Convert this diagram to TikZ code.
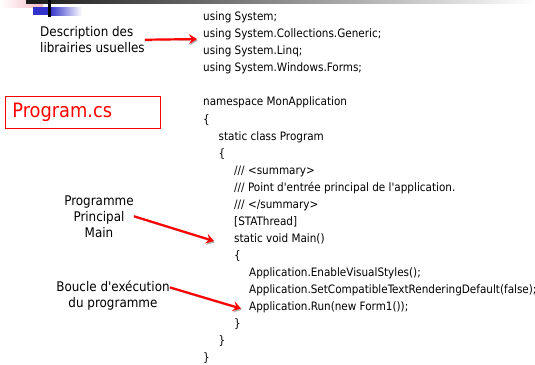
\documentclass[tikz,border=0pt]{standalone}
\usepackage{fontspec}
\setmainfont{DejaVu Sans Condensed}
\usetikzlibrary{arrows.meta}

\definecolor{slideblue}{RGB}{51,51,204}
\definecolor{slidepink}{RGB}{246,186,196}

\begin{document}
\begin{tikzpicture}
  [x=1pt,y=-1pt,
   code/.style={anchor=base west,inner sep=0pt,font=\fontsize{11.6}{14}\selectfont},
   note/.style={inner sep=0pt,font=\fontsize{13.3}{16}\selectfont},
   callout/.style={draw=red,line width=2.2pt,-{Stealth[length=8pt,width=10pt,inset=3pt]},
     preaction={draw=black!30,transform canvas={shift={(0.8pt,-1.4pt)}}}}]
  \useasboundingbox (0,0) rectangle (535,364);

  % slide header
  \shade[left color=white,right color=slidepink] (0,0) rectangle (43,7);
  \shade[left color=black!90,middle color=black!35,right color=white] (26,0) rectangle (535,3.3);
  \fill[slideblue] (33,7) rectangle (50,15);
  \shade[left color=slideblue,right color=white] (50,7) rectangle (82,15);
  \fill[black] (48,0) rectangle (50.5,17.3);

  % source of Program.cs
  \node[code] (usesys)     at (203,20.7)  {using System;};
  \node[code] (usecoll)    at (203,37.75) {using System.Collections.Generic;};
  \node[code] (uselinq)    at (203,54.8)  {using System.Linq;};
  \node[code] (useforms)   at (203,71.85) {using System.Windows.Forms;};
  \node[code] (ns)         at (203,105.95) {namespace MonApplication};
  \node[code] (nsopen)     at (203,123.0) {\{};
  \node[code] (cls)        at (218.5,140.05) {static class Program};
  \node[code] (clsopen)    at (218.5,157.1) {\{};
  \node[code] (sumopen)    at (234,174.15) {/// <summary>};
  \node[code] (sumtext)    at (234,191.2) {/// Point d\textquotesingle entrée principal de l\textquotesingle application.};
  \node[code] (sumclose)   at (234,208.25) {/// </summary>};
  \node[code] (attr)       at (234,225.3) {[STAThread]};
  \node[code] (mainsig)    at (234,242.35) {static void Main()};
  \node[code] (mainopen)   at (234,259.4) {\{};
  \node[code] (visual)     at (249,276.45) {Application.EnableVisualStyles();};
  \node[code] (textrender) at (249,293.5) {Application.SetCompatibleTextRenderingDefault(false);};
  \node[code] (run)        at (249,310.55) {Application.Run(new Form1());};
  \node[code] (mainclose)  at (234,327.6) {\}};
  \node[code] (clsclose)   at (218.5,344.65) {\}};
  \node[code] (nsclose)    at (203,361.7) {\}};

  % file name
  \node[draw=red,line width=0.8pt,text=red,anchor=north west,
        minimum width=155pt,minimum height=32pt,text width=141pt,inner xsep=7pt,
        align=left,font=\fontsize{19.8}{22}\selectfont] (progbox) at (5,96) {Program.cs};

  % notes (base = last line)
  \node[note,anchor=base west,align=left] (libdesc) at (40,52.7) {Description des\\librairies usuelles};
  \node[note,anchor=base,align=center] (mainnote) at (99,237) {Programme\\Principal\\Main};
  \node[note,anchor=base,align=center] (loopnote) at (113,307.3) {Boucle d\textquotesingle exécution\\du programme};

  \draw[callout] (libdesc.east) -- ([xshift=-6pt,yshift=-1.3pt]usecoll.base west);
  \draw[callout] (mainnote.east) -- ([xshift=-20pt,yshift=1.3pt]mainsig.base west);
  \draw[callout] ([yshift=8pt]loopnote.east) -- ([xshift=-8pt,yshift=2pt]run.base west);

\end{tikzpicture}
\end{document}
